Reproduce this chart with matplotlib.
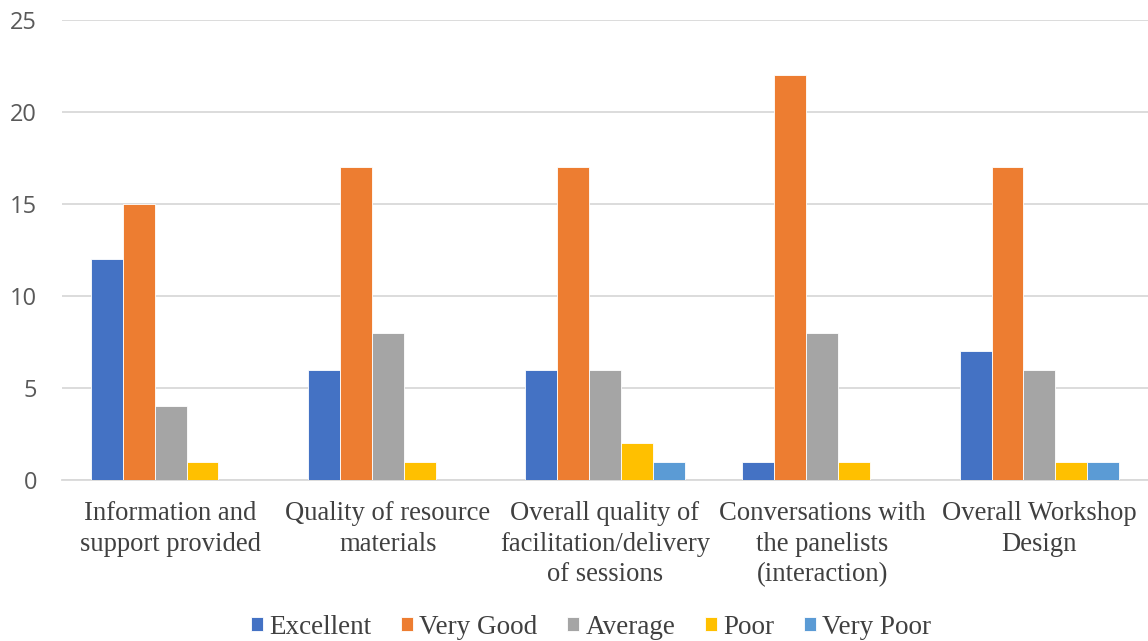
import matplotlib.pyplot as plt
import numpy as np

categories = ["Information and\nsupport provided",
              "Quality of resource\nmaterials",
              "Overall quality of\nfacilitation/delivery\nof sessions",
              "Conversations with\nthe panelists\n(interaction)",
              "Overall Workshop\nDesign"]
ratings = ["Excellent", "Very Good", "Average", "Poor", "Very Poor"]
excellent = [12, 6, 6, 1, 7]
very_good = [15, 17, 17, 22, 17]
average = [4, 8, 6, 8, 6]
poor = [1, 1, 2, 1, 1]
very_poor = [0, 0, 1, 0, 1]

series = [excellent, very_good, average, poor, very_poor]
colors = ['#4472C4', '#ED7D31', '#A5A5A5', '#FFC000', '#5B9BD5']

fig = plt.figure(figsize=(11.48, 6.41), dpi=100)
ax = fig.add_axes([62 / 1148, 1 - 480 / 641, 1086 / 1148, 460 / 641])

x = np.arange(len(categories))
w = 0.147
for i, (vals, c, name) in enumerate(zip(series, colors, ratings)):
    ax.bar(x + (i - 2) * w, vals, w, color=c, edgecolor='white',
           linewidth=0.6, label=name, zorder=3)

ax.set_xlim(-0.5, len(categories) - 0.5)
ax.set_ylim(0, 25)
ax.yaxis.grid(True, color='#D9D9D9', linewidth=1.3, zorder=0)
ax.set_axisbelow(True)
for s in ['top', 'right', 'left']:
    ax.spines[s].set_visible(False)
ax.spines['bottom'].set_color('#D9D9D9')
ax.spines['bottom'].set_linewidth(1.3)
ax.tick_params(axis='both', length=0)
ax.tick_params(axis='y', pad=18)
ax.tick_params(axis='x', pad=15)

ax.set_yticks(range(0, 26, 5))
ax.set_yticklabels([str(v) for v in range(0, 26, 5)], fontfamily='Open Sans',
                   fontsize=17, color='#595959')
ax.set_xticks(x)
ax.set_xticklabels(categories, fontfamily='Liberation Serif', fontsize=19.2,
                   color='#404040', linespacing=1.3, va='top')

leg = fig.legend(loc='center', bbox_to_anchor=(591 / 1148, 1 - 627 / 641),
                 ncol=5, frameon=False, handlelength=0.45, handleheight=0.45,
                 handletextpad=0.22, columnspacing=1.1,
                 prop={'family': 'Liberation Serif', 'size': 19.5})
for t in leg.get_texts():
    t.set_color('#404040')

fig.savefig('out.png', dpi=100)
